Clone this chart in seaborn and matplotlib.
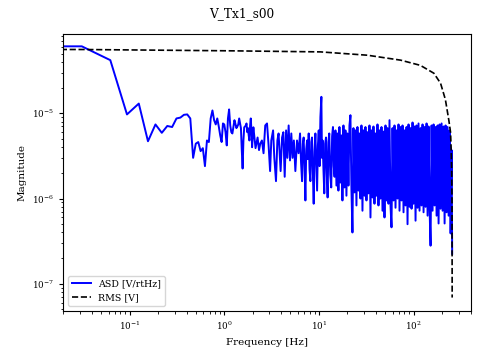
import matplotlib
matplotlib.use('Agg')
import matplotlib.pyplot as plt
import seaborn as sns

# ASD [V/rtHz]: first FFT bins (df = 1/32 Hz), then points read across the noisy part
low_freq = [0.0, 0.03125, 0.0625, 0.09375, 0.125, 0.15625, 0.1875, 0.21875,
            0.25, 0.28125, 0.3125, 0.34375, 0.375, 0.40625, 0.4375, 0.46875,
            0.5, 0.53125, 0.5625, 0.59375, 0.625, 0.65625, 0.6875, 0.71875,
            0.75, 0.78125, 0.8125, 0.84375, 0.875, 0.90625, 0.9375, 0.96875,
            1.0, 1.03125, 1.0625, 1.09375, 1.125, 1.15625, 1.1875, 1.21875,
            1.25, 1.28125, 1.3125, 1.34375, 1.375, 1.40625, 1.4375, 1.46875,
            1.5, 1.53125, 1.5625, 1.59375, 1.625, 1.65625, 1.6875, 1.71875,
            1.75, 1.78125, 1.8125, 1.84375, 1.875, 1.90625, 1.9375, 1.96875,
            2.0, 2.03125]
low_asd = [6.1e-5, 6.1e-5, 4.2e-5, 9.7e-6, 1.3e-5, 4.7e-6, 7.4e-6, 5.9e-6,
           7.1e-6, 6.9e-6, 8.7e-6, 8.9e-6, 9.6e-6, 9.7e-6, 8.7e-6, 3.0e-6,
           4.4e-6, 4.6e-6, 3.6e-6, 3.9e-6, 2.4e-6, 4.8e-6, 4.6e-6, 8.7e-6,
           1.08e-5, 8.3e-6, 7.4e-6, 8.7e-6, 7.0e-6, 5.5e-6, 4.6e-6, 7.6e-6,
           7.4e-6, 6.0e-6, 4.2e-6, 8.7e-6, 1.11e-5, 7.2e-6, 6.0e-6, 5.8e-6,
           7.0e-6, 8.3e-6, 7.5e-6, 6.7e-6, 7.0e-6, 7.4e-6, 8.7e-6, 7.6e-6,
           6.7e-6, 3.7e-6, 2.25e-6, 4.8e-6, 6.85e-6, 7.0e-6, 7.2e-6, 7.6e-6,
           6.0e-6, 6.7e-6, 5.5e-6, 4.8e-6, 7.2e-6, 8.7e-6, 6.3e-6, 4.0e-6,
           5.5e-6, 6.85e-6]

mid_freq = [2.14, 2.25, 2.33, 2.40, 2.50, 2.60, 2.71, 2.83, 2.94, 3.05,
            3.14, 3.28, 3.38, 3.52, 3.64, 3.75, 3.94, 4.08, 4.21, 4.35,
            4.50, 4.64, 4.79, 4.95, 5.11, 5.27, 5.44, 5.64, 5.87, 6.10,
            6.32, 6.48, 6.64, 6.77, 6.90, 7.05, 7.20, 7.35, 7.50, 7.65,
            7.80, 7.96, 8.13, 8.30, 8.46, 8.63, 8.81, 9.00, 9.18, 9.38,
            9.57, 9.76, 9.96, 10.16, 10.37, 10.62, 10.78, 10.95, 11.17, 11.40,
            11.64, 11.89, 12.12, 12.36, 12.61, 12.87, 13.18, 13.50, 13.79, 14.08,
            14.36, 14.64]
mid_asd = [3.9e-6, 5.2e-6, 3.7e-6, 4.4e-6, 4.8e-6, 3.4e-6, 7.2e-6, 7.6e-6, 4.2e-6, 2.1e-6,
           4.8e-6, 6.3e-6, 3.0e-6, 1.6e-6, 4.8e-6, 5.8e-6, 2.1e-6, 5.2e-6, 6.0e-6, 1.8e-6,
           6.3e-6, 3.0e-6, 7.2e-6, 2.8e-6, 5.8e-6, 3.0e-6, 4.8e-6, 2.1e-6, 4.8e-6, 3.4e-6,
           5.8e-6, 2.6e-6, 1.6e-6, 4.4e-6, 5.2e-6, 2.4e-6, 9.5e-7, 3.8e-6, 4.8e-6, 2.9e-6,
           5.8e-6, 2.2e-6, 1.6e-6, 4.6e-6, 5.2e-6, 2.0e-6, 8.7e-7, 3.6e-6, 5.8e-6, 2.6e-6,
           1.24e-6, 4.2e-6, 6.3e-6, 2.4e-6, 9.0e-6, 1.56e-5, 3.0e-6, 4.8e-6, 2.2e-6, 1.15e-6,
           4.4e-6, 5.2e-6, 2.0e-6, 1.03e-6, 4.6e-6, 5.8e-6, 1.9e-6, 1.35e-6, 5.4e-6, 6.9e-6,
           2.4e-6, 1.8e-6]

high_freq = [14.95, 15.32, 15.70, 16.08, 16.48, 16.89, 17.31, 17.73, 18.17, 18.62,
             19.07, 19.54, 20.03, 20.52, 21.03, 21.54, 22.08, 22.62, 23.18, 23.75,
             24.33, 24.93, 25.55, 26.18, 26.82, 27.49, 28.16, 28.86, 29.57, 30.30,
             31.05, 31.81, 32.60, 33.40, 34.23, 35.07, 35.94, 36.82, 37.73, 38.66,
             39.62, 40.59, 41.60, 42.62, 43.67, 44.75, 45.85, 46.98, 48.14, 49.33,
             50.55, 51.80, 53.07, 54.38, 55.72, 57.10, 58.50, 59.95, 61.43, 62.94,
             64.50, 66.09, 67.72, 69.39, 71.10, 72.85, 74.65, 76.49, 78.38, 80.31,
             82.30, 84.33, 86.41, 88.54, 90.72, 92.96, 95.25, 97.60, 100.0, 102.5,
             105.0, 107.6, 110.2, 112.9, 115.7, 118.6, 121.5, 124.5, 127.6, 130.7,
             134.0, 137.3, 140.7, 144.1, 147.7, 151.3, 155.1, 158.9, 162.8, 166.8,
             171.0, 175.2, 179.5, 183.9, 188.5, 193.1, 197.9, 202.8, 207.8, 212.9,
             218.1, 223.5, 229.0, 234.7, 240.5, 246.4, 252.5, 256.0]
high_asd = [6.3e-6, 1.42e-6, 5.8e-6, 1.24e-6, 6.9e-6, 1.54e-6, 5.5e-6, 9.5e-7, 7.2e-6, 1.35e-6,
            6.3e-6, 1.08e-6, 5.8e-6, 1.42e-6, 7.2e-6, 9.5e-6, 1.24e-6, 4.0e-7, 6.7e-6, 1.18e-6,
            6.3e-6, 8.3e-7, 6.9e-6, 1.24e-6, 5.8e-6, 1.0e-6, 7.2e-6, 7.2e-7, 6.3e-6, 1.08e-6,
            6.9e-6, 9.5e-7, 6.0e-6, 1.15e-6, 7.2e-6, 6.0e-7, 6.3e-6, 1.03e-6, 7.0e-6, 8.7e-7,
            5.8e-6, 1.08e-6, 7.4e-6, 8.3e-7, 6.3e-6, 1.0e-6, 6.9e-6, 7.2e-7, 6.1e-6, 6.0e-7,
            7.2e-6, 9.5e-7, 6.7e-6, 8.7e-7, 8.3e-6, 8.3e-7, 4.6e-7, 6.7e-6, 9.5e-7, 7.2e-6,
            7.8e-7, 6.3e-6, 1.0e-6, 7.4e-6, 7.2e-7, 6.9e-6, 9.5e-7, 7.2e-6, 6.9e-7, 6.3e-6,
            8.3e-7, 6.9e-6, 5.0e-7, 7.4e-6, 8.0e-7, 6.7e-6, 7.6e-7, 7.8e-6, 8.7e-7, 7.0e-6,
            5.5e-7, 7.2e-6, 7.8e-7, 7.6e-6, 7.2e-7, 6.7e-6, 8.3e-7, 7.4e-6, 6.9e-7, 6.9e-6,
            8.0e-7, 7.6e-6, 6.3e-7, 7.0e-6, 7.6e-7, 2.8e-7, 7.2e-6, 7.2e-7, 7.4e-6, 8.3e-7,
            6.9e-6, 6.3e-7, 7.2e-6, 5.1e-7, 7.4e-6, 7.6e-7, 7.6e-6, 7.2e-7, 7.0e-6, 5.1e-7,
            7.2e-6, 6.9e-7, 6.9e-6, 6.3e-7, 6.3e-6, 3.9e-7, 3.7e-6, 2.25e-7]

# RMS [V], integrated from the top frequency down
rms_freq = [0.0, 0.03125, 1.25, 10.4, 32.5, 73.0, 118.0, 164.0,
            193.0, 217.0, 236.0, 246.0, 250.0, 253.0, 255.0, 256.0]
rms = [5.6e-5, 5.6e-5, 5.4e-5, 5.25e-5, 4.8e-5, 4.2e-5, 3.65e-5, 2.95e-5,
       2.25e-5, 1.45e-5, 8.3e-6, 6.0e-6, 3.7e-6, 2.1e-6, 9.5e-7, 6.9e-8]

freq_hz = low_freq + mid_freq + high_freq
asd = low_asd + mid_asd + high_asd

plt.rcParams['font.family'] = ['DejaVu Serif']

fig, ax = plt.subplots(figsize=(4.83, 3.51), dpi=100)
fig.subplots_adjust(left=0.131, right=0.975, top=0.903, bottom=0.114)

sns.lineplot(x=freq_hz, y=asd, ax=ax, color='blue', linewidth=1.4,
             label='ASD [V/rtHz]', estimator=None, sort=False)
sns.lineplot(x=rms_freq, y=rms, ax=ax, color='black', linestyle='--', linewidth=1.2,
             label='RMS [V]', estimator=None, sort=False)

ax.set_xscale('log')
ax.set_yscale('log')
ax.set_xlim(0.0199, 404)
ax.set_ylim(4.8e-8, 8.5e-5)

fig.suptitle('V_Tx1_s00', fontsize=8.7)
ax.set_xlabel('Frequency [Hz]', fontsize=7.5)
ax.set_ylabel('Magnitude', fontsize=7.5)
ax.tick_params(which='both', labelsize=6.3)
ax.tick_params(which='major', length=3)
ax.tick_params(which='minor', length=1.8)
ax.legend(loc='lower left', fontsize=6.8)

fig.savefig('out.png', dpi=100)
